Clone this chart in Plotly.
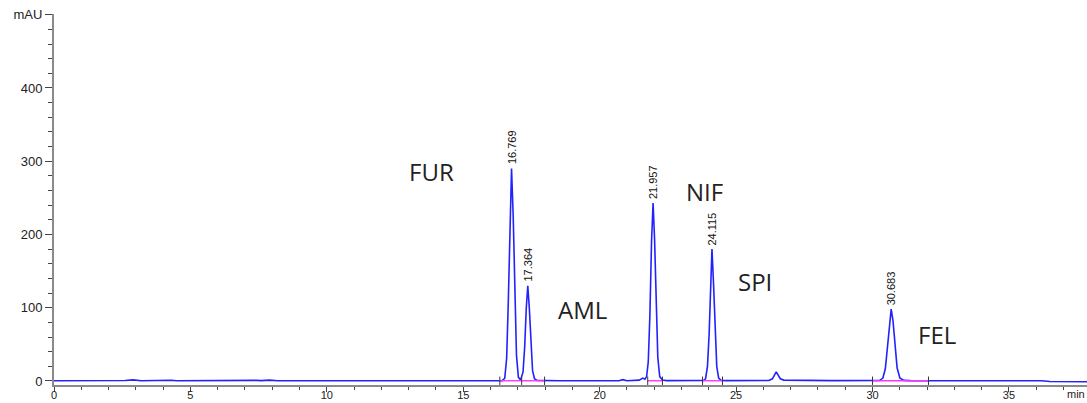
import plotly.graph_objects as go

# --- chromatogram trace (time in min, absorbance in mAU) ---
time_min = [
    0.0, 1.0, 2.0, 2.4, 2.6, 2.9, 3.2, 4.3, 4.5, 7.4, 7.6, 7.9, 8.2, 10.0, 12.0, 15.0, 16.2,
    16.42, 16.52, 16.59, 16.65, 16.71, 16.769, 16.83, 16.89, 16.95, 17.02,
    17.10, 17.19, 17.25, 17.31, 17.364, 17.42, 17.48, 17.54, 17.61, 17.70,
    18.5, 20.7, 20.85, 21.0, 21.45, 21.58, 21.66, 21.72, 21.78, 21.84, 21.90, 21.957,
    22.01, 22.07, 22.13, 22.20, 22.30, 22.45,
    23.80, 23.88, 23.95, 24.01, 24.06, 24.115, 24.17, 24.23, 24.29, 24.36, 24.45, 24.60,
    26.20, 26.33, 26.40, 26.47, 26.54, 26.62, 26.75, 27.1, 27.3, 27.6, 28.5, 30.25,
    30.38, 30.47, 30.55, 30.62, 30.683, 30.75, 30.82, 30.90, 31.00, 31.15, 31.40,
    34.8, 35.0, 35.2, 35.8, 36.2, 36.5, 37.86,
]
absorbance_mau = [
    0.2, 0.2, 0.3, 1.2, 0.6, 1.5, 0.4, 0.9, 0.3, 0.8, 0.5, 1.2, 0.3, 0.4, 0.4, 0.5, 0.5,
    0.5, 3.5, 31, 107, 226, 290, 225, 110, 35, 5,
    1.5, 12, 46, 100, 130, 100, 48, 14, 3, 0.8,
    0.4, 0.4, 1.8, 0.4, 1.2, 4.0, 2.5, 6, 26, 90, 190, 243,
    195, 95, 32, 6, 1.2, 0.5,
    0.6, 3, 20, 63, 130, 180, 135, 66, 20, 4, 1, 0.5,
    0.6, 3, 8.5, 12.5, 8, 3, 1.2, 1.0, 1.8, 1.0, 0.5, 0.6,
    4, 17, 46, 80, 98, 82, 48, 18, 4, 0.8, 0.5,
    0.5, 1.3, 0.8, 0.5, 0.3, -0.8, -1.0,
]

# --- integrated peaks ---
peak_rt = [16.769, 17.364, 21.957, 24.115, 30.683]
peak_height = [290, 130, 243, 180, 98]
peak_rt_labels = ["16.769", "17.364", "21.957", "24.115", "30.683"]

# --- integration baselines (start, end) ---
base_start = [16.34, 17.14, 21.76, 23.77, 30.00]
base_end = [17.14, 17.98, 22.30, 24.50, 32.05]
base_level = 0.3

# --- compound names and their label positions ---
compound_names = ["FUR", "AML", "NIF", "SPI", "FEL"]
compound_x = [13.85, 19.38, 23.85, 25.68, 32.35]
compound_y = [286, 97, 259, 136, 63]

# --- axis ticks ---
x_tickvals = [0, 5, 10, 15, 20, 25, 30, 35]
x_ticktext = ["0", "5", "10", "15", "20", "25", "30", "35"]
y_tickvals = [0, 100, 200, 300, 400, 500]
y_ticktext = ["0", "100", "200", "300", "400", "mAU"]
x_unit_label = "min"

Y_MIN, Y_MAX = -5.5, 501
X_MIN, X_MAX = 0, 37.86

fig = go.Figure()

fig.add_trace(go.Scatter(
    x=time_min, y=absorbance_mau, mode="lines",
    line=dict(color="#2222ff", width=1.6), hoverinfo="skip", showlegend=False,
))

# magenta baselines
bx, by = [], []
for s, e in zip(base_start, base_end):
    bx += [s, e, None]
    by += [base_level, base_level, None]
fig.add_trace(go.Scatter(
    x=bx, y=by, mode="lines", line=dict(color="#ff33ff", width=1.4),
    hoverinfo="skip", showlegend=False,
))

# baseline event ticks
events = sorted(set(base_start + base_end))
fig.add_trace(go.Scatter(
    x=events, y=[base_level] * len(events), mode="markers",
    marker=dict(symbol="line-ns", size=6, line=dict(color="#333333", width=1)),
    hoverinfo="skip", showlegend=False,
))

annotations = []
for rt, h, lab in zip(peak_rt, peak_height, peak_rt_labels):
    annotations.append(dict(
        x=rt, y=h, xref="x", yref="y", text=lab, textangle=-90,
        showarrow=False, xanchor="center", yanchor="bottom", yshift=2,
        font=dict(family="Liberation Sans Narrow, Liberation Sans, Arial", size=11, color="#111111"),
    ))
for name, cx, cy in zip(compound_names, compound_x, compound_y):
    annotations.append(dict(
        x=cx, y=cy, xref="x", yref="y", text=name, showarrow=False,
        xanchor="center", yanchor="middle",
        font=dict(family="Open Sans, Noto Sans, sans-serif", size=24, color="#222222"),
    ))
annotations.append(dict(
    x=37.05, y=Y_MIN, xref="x", yref="y", text=x_unit_label, showarrow=False,
    xanchor="left", yanchor="top", yshift=-1,
    font=dict(family="Liberation Sans, Arial", size=11, color="#222222"),
))

fig.update_layout(
    width=1087, height=403,
    margin=dict(l=54, r=0, t=14, b=18, autoexpand=False),
    paper_bgcolor="white", plot_bgcolor="white",
    font=dict(family="Liberation Sans, Arial", size=13, color="#222222"),
    annotations=annotations,
    xaxis=dict(
        range=[X_MIN, X_MAX], showgrid=False, zeroline=False,
        showline=True, linecolor="#8a8a8a", linewidth=2,
        tickmode="array", tickvals=x_tickvals, ticktext=x_ticktext,
        ticks="outside", ticklen=5, tickwidth=1, tickcolor="#444444",
        ticklabelstandoff=-6,
        minor=dict(tickmode="linear", tick0=0, dtick=1, ticks="outside",
                   ticklen=3, tickwidth=1, tickcolor="#444444"),
        tickfont=dict(size=11, color="#222222"),
    ),
    yaxis=dict(
        range=[Y_MIN, Y_MAX], showgrid=False, zeroline=False,
        showline=True, linecolor="#8a8a8a", linewidth=2,
        tickmode="array", tickvals=y_tickvals, ticktext=y_ticktext,
        ticks="outside", ticklen=7, tickwidth=1, tickcolor="#444444",
        minor=dict(tickmode="linear", tick0=0, dtick=20, ticks="outside",
                   ticklen=4, tickwidth=1, tickcolor="#444444"),
        tickfont=dict(size=13, color="#222222"),
    ),
)

fig.write_html("out.html")
